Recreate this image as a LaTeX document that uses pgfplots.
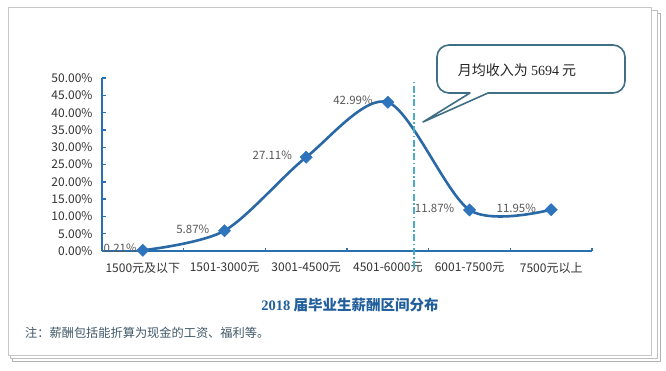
\documentclass[border=0pt]{standalone}
\usepackage{fontspec}
\setmainfont{Noto Sans CJK SC}
\newfontfamily\serifnum{Liberation Serif}
\usepackage{pgfplots}
\pgfplotsset{compat=1.18}
\definecolor{axisblue}{HTML}{2B70AE}
\definecolor{lineblue}{HTML}{2A69A6}
\definecolor{markblue}{HTML}{2D74BC}
\definecolor{lblgray}{HTML}{595959}
\definecolor{tickgray}{HTML}{333333}
\definecolor{dashteal}{HTML}{4BACC6}
\definecolor{callout}{HTML}{3F6F84}
\definecolor{titleblue}{HTML}{215F9C}
\definecolor{notecol}{HTML}{405868}
\begin{document}
\begin{tikzpicture}[x=1pt,y=1pt]
\path[use as bounding box] (0,0) rectangle (666,370);
\fill[white] (0,0) rectangle (666,370);
% stacked pages
\draw[black!30, line width=0.8pt, fill=white] (12,9) rectangle (660,357);
\draw[black!25, line width=0.8pt, fill=white] (10,12) rectangle (657,360);
\draw[black!22, line width=0.8pt, fill=white] (8,15) rectangle (651,363);

\begin{axis}[
  at={(102pt,119pt)}, anchor=south west,
  scale only axis, width=490pt, height=173pt,
  xmin=-0.5, xmax=5.5, ymin=0, ymax=50,
  axis lines*=left,
  axis line style={-, line width=2.2pt, color=axisblue},
  tick align=inside,
  tick style={color=axisblue, line width=1.4pt},
  major tick length=3.5pt,
  xtick={0.5,1.5,2.5,3.5,4.5,5.5},
  xticklabels={1500元及以下,1501-3000元,3001-4500元,4501-6000元,6001-7500元,7500元以上},
  xticklabel style={xshift=-40.8pt, font=\fontsize{12}{14}\selectfont, text=tickgray, yshift=-8pt},
  ytick={0,5,...,50},
  yticklabels={0.00\%,5.00\%,10.00\%,15.00\%,20.00\%,25.00\%,30.00\%,35.00\%,40.00\%,45.00\%,50.00\%},
  yticklabel style={font=\fontsize{12}{14}\selectfont, text=tickgray, xshift=-6pt},
  /pgf/number format/assume math mode=true,
  clip=false,
]
\addplot[smooth, color=lineblue, line width=2.6pt,
  mark=square*, mark size=4.3pt,
  mark options={rotate=45, fill=markblue, draw=markblue, line width=0.5pt}]
  coordinates {(0,0.21) (1,5.87) (2,27.11) (3,42.99) (4,11.87) (5,11.95)};
\draw[dashteal, line width=1.6pt, dash pattern=on 7pt off 2.5pt on 1.5pt off 2.5pt]
  (axis cs:3.32,-5) -- (axis cs:3.32,48.8);
\begin{scope}[font=\fontsize{11.5}{13}\selectfont, text=lblgray]
\node[anchor=mid east, inner sep=0pt, xshift=-6pt] at (axis cs:0,0.21) {0.21\%};
\node[anchor=mid east, inner sep=0pt, xshift=-15pt] at (axis cs:1,5.87) {5.87\%};
\node[anchor=mid east, inner sep=0pt, xshift=-14pt] at (axis cs:2,27.11) {27.11\%};
\node[anchor=mid east, inner sep=0pt, xshift=-15pt] at (axis cs:3,42.99) {42.99\%};
\node[anchor=mid east, inner sep=0pt, xshift=-15pt] at (axis cs:4,11.87) {11.87\%};
\node[anchor=mid east, inner sep=0pt, xshift=-15pt] at (axis cs:5,11.95) {11.95\%};
\end{scope}
\end{axis}

% callout
\draw[callout, line width=1.6pt, fill=white, line join=round]
  (423,248) -- (488,277) -- (613,277) arc[start angle=-90, end angle=0, radius=12]
  -- (625,313) arc[start angle=0, end angle=90, radius=12]
  -- (449,325) arc[start angle=90, end angle=180, radius=12]
  -- (437,289) arc[start angle=180, end angle=270, radius=12]
  -- (470,277) -- cycle;
\node[text=black!85, font=\fontsize{14}{16}\selectfont] at (517,300) {月均收入为 {\serifnum 5694} 元};

% title and note
\node[text=titleblue, font=\fontsize{14.5}{17}\selectfont\bfseries] at (350,65) {{\serifnum\bfseries 2018} 届毕业生薪酬区间分布};
\node[anchor=west, text=notecol, font=\fontsize{12.2}{14}\selectfont, inner sep=0pt] at (25,37) {注：薪酬包括能折算为现金的工资、福利等。};
\end{tikzpicture}
\end{document}
